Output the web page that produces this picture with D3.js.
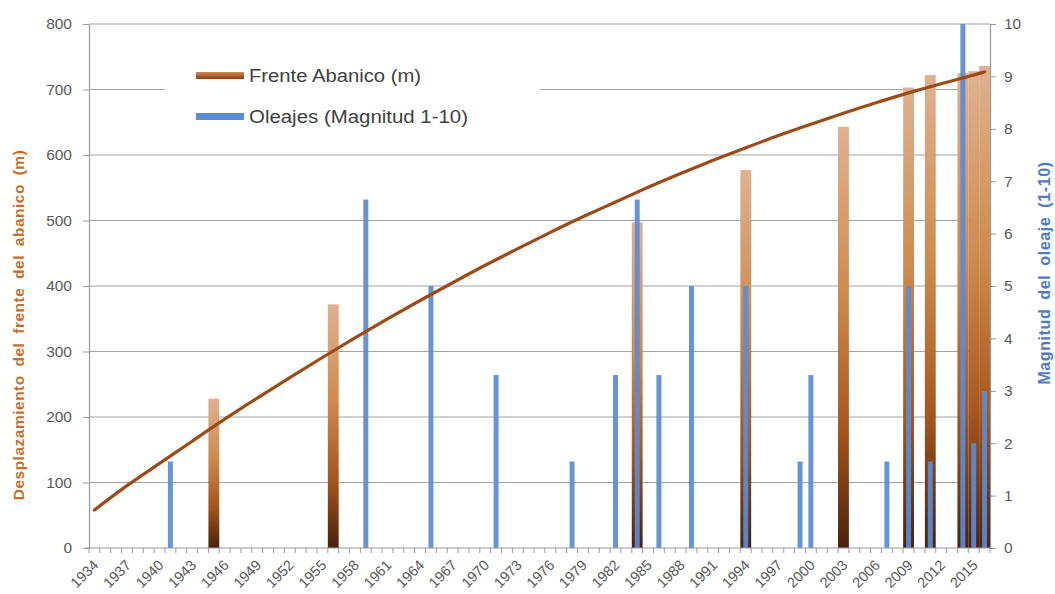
<!DOCTYPE html>
<html>
<head>
<meta charset="utf-8">
<script src="https://cdn.jsdelivr.net/npm/d3@7"></script>
<style>
  body { margin: 0; background: #fff; }
  svg { display: block; }
  text { font-family: "Liberation Sans", Arial, sans-serif; }
</style>
</head>
<body>
<svg id="chart" width="1055" height="594"></svg>
<script>
// Year categories on the x axis
const yearStart = 1934;
const yearEnd = 2016;
const tickYears = [1934, 1937, 1940, 1943, 1946, 1949, 1952, 1955, 1958, 1961, 1964,
  1967, 1970, 1973, 1976, 1979, 1982, 1985, 1988, 1991, 1994, 1997, 2000, 2003,
  2006, 2009, 2012, 2015];

// Fan front displacement (m), primary axis
const fanYears = [1945, 1956, 1984, 1994, 2003, 2009, 2011, 2014, 2015, 2016];
const fanValues = [228, 372, 497, 577, 643, 703, 722, 725, 728, 736];

// Swell events (magnitude 1-10), secondary axis
const waveYears = [1941, 1959, 1965, 1971, 1978, 1982, 1984, 1986, 1989, 1994,
  1999, 2000, 2007, 2009, 2011, 2014, 2015, 2016];
const waveValues = [1.65, 6.65, 5.0, 3.3, 1.65, 3.3, 6.65, 3.3, 5.0, 5.0,
  1.65, 3.3, 1.65, 5.0, 1.65, 10, 2, 3];

// Trend of the fan front (m)
const trendYears = [1934, 1937, 1940, 1943, 1946, 1949, 1952, 1955, 1958, 1961, 1964,
  1967, 1970, 1973, 1976, 1979, 1982, 1985, 1988, 1991, 1994, 1997, 2000, 2003,
  2006, 2009, 2012, 2015, 2016];
const trendValues = [58, 96, 129, 163, 197, 229, 260, 291, 321, 350, 378,
  405, 432, 457, 482, 506, 528, 551, 572, 592, 611, 630, 647, 664,
  680, 695, 709, 722, 727];

const leftTicks = [0, 100, 200, 300, 400, 500, 600, 700, 800];
const rightTicks = [0, 1, 2, 3, 4, 5, 6, 7, 8, 9, 10];

const legendLabels = ["Frente Abanico (m)", "Oleajes (Magnitud 1-10)"];
const leftTitle = "Desplazamiento del frente del abanico (m)";
const rightTitle = "Magnitud del oleaje (1-10)";

// Layout
const plot = { left: 89, right: 990, top: 24, bottom: 548 };
const svg = d3.select("#chart");

const years = d3.range(yearStart, yearEnd + 1);
const x = d3.scaleBand().domain(years).range([plot.left, plot.right]).padding(0);
const bw = x.bandwidth();
const cx = y => x(y) + bw / 2;
const yL = d3.scaleLinear().domain([0, 800]).range([plot.bottom, plot.top]);
const yR = d3.scaleLinear().domain([0, 10]).range([plot.bottom, plot.top]);

const gridColor = "#a3a3a3";
const axisColor = "#9a9a9a";
const labelColor = "#5a5a5a";

// Gradient for the fan bars
const defs = svg.append("defs");
const grad = defs.append("linearGradient").attr("id", "fanGrad")
  .attr("x1", 0).attr("y1", 0).attr("x2", 0).attr("y2", 1);
[["0%", "#dfb190"], ["40%", "#cc8a4e"], ["72%", "#a5561f"], ["100%", "#4a220c"]]
  .forEach(([o, c]) => grad.append("stop").attr("offset", o).attr("stop-color", c));
const legGrad = defs.append("linearGradient").attr("id", "fanLegGrad")
  .attr("x1", 0).attr("y1", 0).attr("x2", 0).attr("y2", 1);
[["0%", "#d08a58"], ["100%", "#8a3e14"]]
  .forEach(([o, c]) => legGrad.append("stop").attr("offset", o).attr("stop-color", c));

// Horizontal gridlines
svg.append("g").selectAll("line").data(leftTicks.filter(d => d > 0)).join("line")
  .attr("x1", plot.left).attr("x2", plot.right)
  .attr("y1", d => yL(d)).attr("y2", d => yL(d))
  .attr("stroke", gridColor).attr("stroke-width", 1.2);

// Left axis
const gL = svg.append("g").attr("transform", `translate(${plot.left},0)`)
  .call(d3.axisLeft(yL).tickValues(leftTicks).tickSize(6).tickSizeOuter(0).tickPadding(11));
gL.select(".domain").attr("stroke", axisColor).attr("stroke-width", 1.2);
gL.selectAll(".tick line").attr("stroke", axisColor);
gL.selectAll(".tick text").attr("fill", labelColor).style("font-size", "15.5px")
  .style("font-family", "'Liberation Sans', Arial, sans-serif");

// Right axis
const gR = svg.append("g").attr("transform", `translate(${plot.right},0)`)
  .call(d3.axisRight(yR).tickValues(rightTicks).tickSize(6).tickSizeOuter(0).tickPadding(8));
gR.select(".domain").attr("stroke", axisColor).attr("stroke-width", 1.2);
gR.selectAll(".tick line").attr("stroke", axisColor);
gR.selectAll(".tick text").attr("fill", labelColor).style("font-size", "15.5px")
  .style("font-family", "'Liberation Sans', Arial, sans-serif");

// Fan bars
svg.append("g").selectAll("rect").data(fanYears.map((y, i) => ({ y, v: fanValues[i] })))
  .join("rect")
  .attr("x", d => x(d.y)).attr("width", bw)
  .attr("y", d => yL(d.v)).attr("height", d => plot.bottom - yL(d.v))
  .attr("fill", "url(#fanGrad)");

// Swell bars
const waveW = 5;
svg.append("g").selectAll("rect").data(waveYears.map((y, i) => ({ y, v: waveValues[i] })))
  .join("rect")
  .attr("x", d => cx(d.y) - waveW / 2).attr("width", waveW)
  .attr("y", d => yR(d.v)).attr("height", d => plot.bottom - yR(d.v))
  .attr("fill", "#5b8bd4").attr("fill-opacity", 0.92);

// Trend line
const trend = trendYears.map((y, i) => ({ y, v: trendValues[i] }));
svg.append("path").datum(trend)
  .attr("fill", "none").attr("stroke", "#9c4a18").attr("stroke-width", 3.2)
  .attr("stroke-linecap", "round")
  .attr("d", d3.line().x(d => cx(d.y)).y(d => yL(d.v)).curve(d3.curveBasis));

// X axis: line, a minor tick at every category boundary, rotated year labels
const gX = svg.append("g");
gX.append("line").attr("x1", plot.left - 4).attr("x2", plot.right)
  .attr("y1", plot.bottom).attr("y2", plot.bottom)
  .attr("stroke", axisColor).attr("stroke-width", 1.2);
gX.selectAll("line.tk").data(years.concat([yearEnd + 1])).join("line").attr("class", "tk")
  .attr("x1", d => d <= yearEnd ? x(d) : plot.right)
  .attr("x2", d => d <= yearEnd ? x(d) : plot.right)
  .attr("y1", plot.bottom).attr("y2", plot.bottom + 5)
  .attr("stroke", axisColor);
gX.selectAll("text").data(tickYears).join("text")
  .attr("transform", d => `translate(${cx(d) + 5},${plot.bottom + 18}) rotate(-45)`)
  .attr("text-anchor", "end")
  .attr("fill", labelColor).style("font-size", "14.5px")
  .text(d => d);

// Axis titles
svg.append("text")
  .attr("transform", "translate(19,325) rotate(-90)")
  .attr("text-anchor", "middle").attr("dy", "0.35em")
  .attr("fill", "#c4702c").style("font-size", "15.5px").style("font-weight", "bold")
  .style("word-spacing", "4px").style("letter-spacing", "0.5px")
  .text(leftTitle);
svg.append("text")
  .attr("transform", "translate(1044,273) rotate(-90)")
  .attr("text-anchor", "middle").attr("dy", "0.35em")
  .attr("fill", "#4d7cc4").style("font-size", "16px").style("font-weight", "bold")
  .style("word-spacing", "4px").style("letter-spacing", "0.6px")
  .text(rightTitle);

// Legend
const leg = svg.append("g");
leg.append("rect").attr("x", 165).attr("y", 52).attr("width", 375).attr("height", 84)
  .attr("fill", "#fff");
const legFills = ["url(#fanLegGrad)", "#5b8bd4"];
const legY = [76, 117];
const legWidths = [172, 219];
legendLabels.forEach((t, i) => {
  leg.append("rect").attr("x", 196).attr("y", legY[i] - 4).attr("width", 48).attr("height", 7)
    .attr("fill", legFills[i]);
  leg.append("text").attr("x", 249).attr("y", legY[i] + 6)
    .attr("textLength", legWidths[i]).attr("lengthAdjust", "spacingAndGlyphs")
    .attr("fill", "#404040").style("font-size", "17.5px").text(t);
});
</script>
</body>
</html>
